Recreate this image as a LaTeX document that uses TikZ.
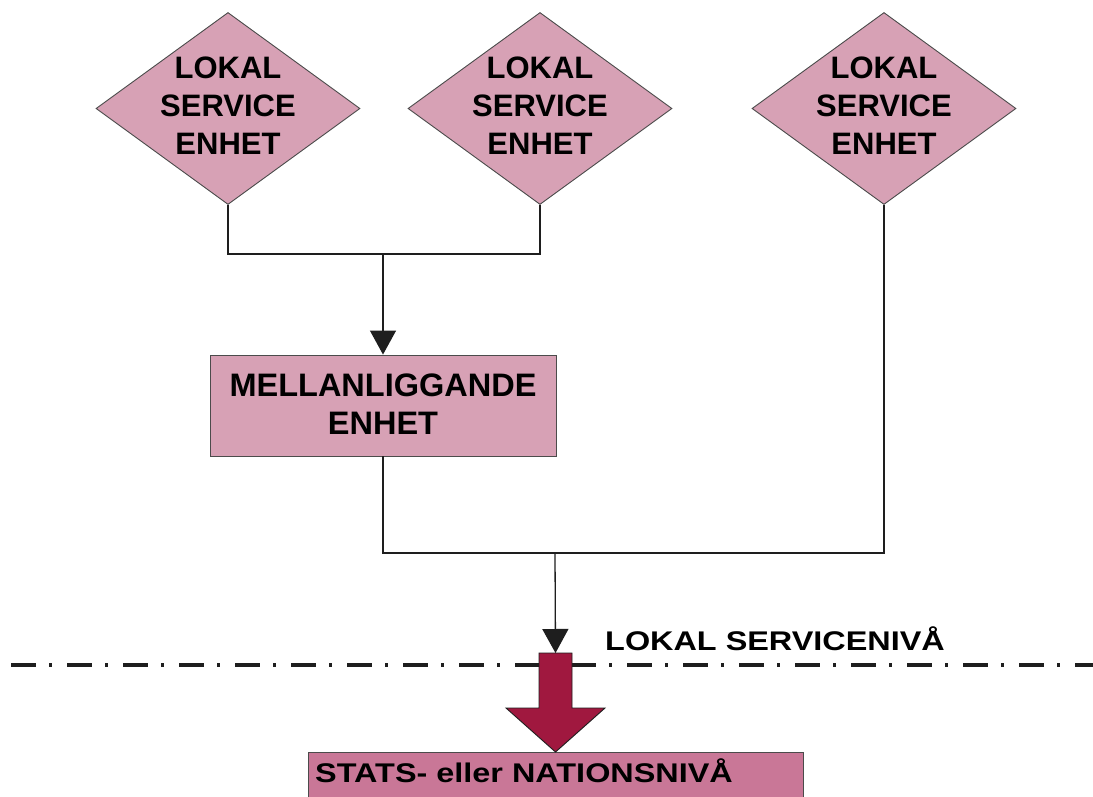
\documentclass[tikz,border=0pt]{standalone}
\usepackage{fontspec}
\setmainfont{Liberation Sans}
\newfontfamily\widesans{Liberation Sans}[FakeStretch=1.2]
\usetikzlibrary{shapes.geometric,arrows.meta}

\definecolor{unitpink}{HTML}{D7A1B5}
\definecolor{nationpink}{HTML}{C97797}
\definecolor{flowred}{HTML}{A0183F}
\definecolor{inkline}{HTML}{1E1E1E}

\tikzset{
  unitdiamond/.style={diamond, draw=inkline!80, line width=0.9pt, fill=unitpink,
    minimum width=264pt, minimum height=192pt, inner sep=0pt},
  unitbox/.style={rectangle, draw=inkline!80, line width=0.9pt, fill=unitpink,
    minimum width=346pt, minimum height=101pt, inner sep=0pt},
  nationbox/.style={rectangle, draw=inkline!80, line width=0.9pt, fill=nationpink,
    minimum width=495pt, minimum height=70pt, inner sep=0pt},
  unitlabel/.style={align=center, inner sep=0pt, font=\bfseries\fontsize{31}{38}\selectfont},
  boxlabel/.style={align=center, inner sep=0pt, font=\bfseries\fontsize{32.5}{38}\selectfont},
  levellabel/.style={inner sep=0pt, font=\widesans\bfseries\fontsize{27}{32}\selectfont},
  conn/.style={draw=inkline, line width=1.3pt},
  flow/.style={conn, -{Triangle[width=26pt,length=24pt]}},
  levelline/.style={draw=inkline, line width=3.5pt,
    dash pattern=on 25pt off 13pt on 3pt off 15pt, dash phase=45pt},
}

\begin{document}
\begin{tikzpicture}[x=1pt,y=-1pt]
  \clip (0,0) rectangle (1093,797);
  \fill[white] (0,0) rectangle (1093,797);

  % boundary between the local service level and the national level
  \draw[levelline] (0,665) -- (1093,665);
  \node[levellabel, anchor=base west] (levelname) at (605,650) {LOKAL SERVICENIVÅ};

  % local service units
  \node[unitdiamond] (d1) at (228,108.5) {};
  \node[unitdiamond] (d2) at (540,108.5) {};
  \node[unitdiamond] (d3) at (884,108.5) {};
  \foreach \d in {d1,d2,d3}
    \node[unitlabel] at ([yshift=3pt]\d.center) {LOKAL\\SERVICE\\ENHET};

  % intermediate unit
  \node[unitbox] (mid) at (383,405.5) {};
  \node[boxlabel] at ([yshift=1pt]mid.center) {MELLANLIGGANDE\\ENHET};

  % national level
  \node[nationbox, anchor=north west] (nation) at (308,752) {};
  \node[levellabel, anchor=base west] (nationname) at (315,782) {STATS- eller NATIONSNIVÅ};

  % junction points of the connectors
  \coordinate (j1) at (383,254);
  \coordinate (j2) at (555,553);
  \coordinate (redtop) at (555.5,653);

  % two local units feed the intermediate unit
  \draw[conn] (d1.south) |- (j1) -| (d2.south);
  \draw[flow] (j1) -- (mid.north);

  % intermediate unit and third local unit feed the level boundary
  \draw[conn] (mid.south) |- (j2) -| (d3.south);
  \draw[flow] (j2) -- (redtop);

  % block arrow down to the national level
  \filldraw[fill=flowred, draw=inkline, line width=0.9pt]
    (539,653) -- (572,653) -- (572,708) -- (605,708) -- (nation.north -| redtop)
    -- (506,708) -- (539,708) -- cycle;
\end{tikzpicture}
\end{document}
